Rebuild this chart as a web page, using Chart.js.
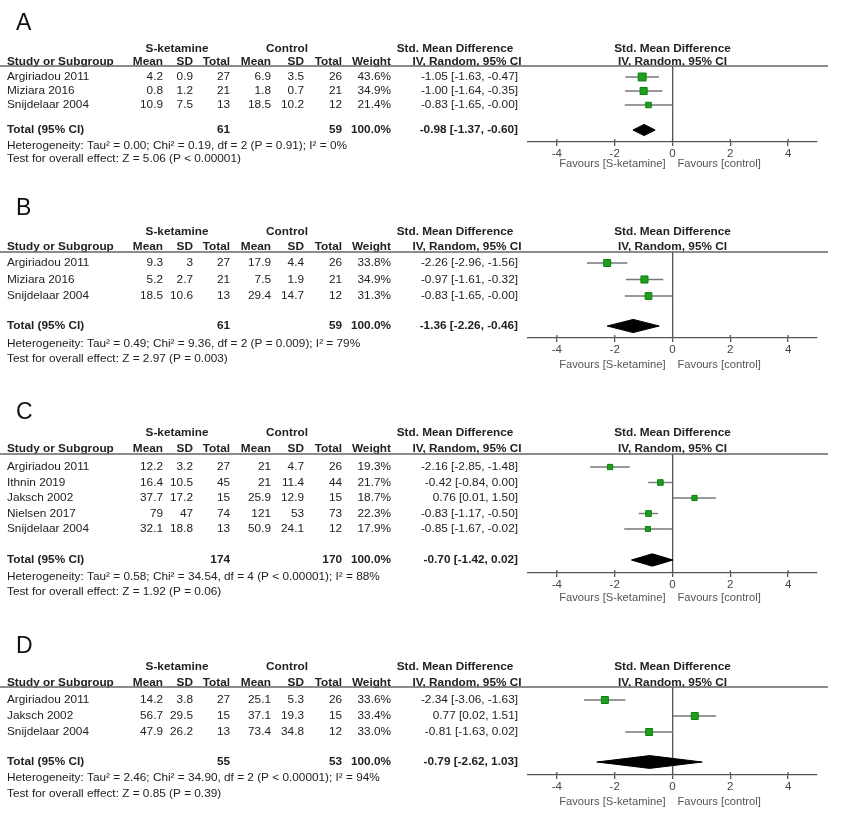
<!DOCTYPE html>
<html>
<head>
<meta charset="utf-8">
<script src="https://cdn.jsdelivr.net/npm/chart.js@4.4.1/dist/chart.umd.min.js"></script>
<style>
  html, body { margin: 0; padding: 0; background: #fff; }
  #wrap { position: relative; width: 865px; height: 816px; }
  #wrap canvas { position: absolute; left: 0; }
</style>
</head>
<body>
<div id="wrap"></div>
<script>
/* ---------- data ---------- */
const tickValues = [-4, -2, 0, 2, 4];

// A
const studiesA = ['Argiriadou 2011', 'Miziara 2016', 'Snijdelaar 2004'];
const ketMeanA = [4.2, 0.8, 10.9];
const ketSdA = [0.9, 1.2, 7.5];
const ketNA = [27, 21, 13];
const ctlMeanA = [6.9, 1.8, 18.5];
const ctlSdA = [3.5, 0.7, 10.2];
const ctlNA = [26, 21, 12];
const weightA = [43.6, 34.9, 21.4];
const smdA = [-1.05, -1.00, -0.83];
const loA = [-1.63, -1.64, -1.65];
const hiA = [-0.47, -0.35, -0.00];
const pooledA = [-0.98, -1.37, -0.60];
const totalsA = [61, 59];
const hetA = 'Heterogeneity: Tau² = 0.00; Chi² = 0.19, df = 2 (P = 0.91); I² = 0%';
const testA = 'Test for overall effect: Z = 5.06 (P < 0.00001)';

// B
const studiesB = ['Argiriadou 2011', 'Miziara 2016', 'Snijdelaar 2004'];
const ketMeanB = [9.3, 5.2, 18.5];
const ketSdB = [3, 2.7, 10.6];
const ketNB = [27, 21, 13];
const ctlMeanB = [17.9, 7.5, 29.4];
const ctlSdB = [4.4, 1.9, 14.7];
const ctlNB = [26, 21, 12];
const weightB = [33.8, 34.9, 31.3];
const smdB = [-2.26, -0.97, -0.83];
const loB = [-2.96, -1.61, -1.65];
const hiB = [-1.56, -0.32, -0.00];
const pooledB = [-1.36, -2.26, -0.46];
const totalsB = [61, 59];
const hetB = 'Heterogeneity: Tau² = 0.49; Chi² = 9.36, df = 2 (P = 0.009); I² = 79%';
const testB = 'Test for overall effect: Z = 2.97 (P = 0.003)';

// C
const studiesC = ['Argiriadou 2011', 'Ithnin 2019', 'Jaksch 2002', 'Nielsen 2017', 'Snijdelaar 2004'];
const ketMeanC = [12.2, 16.4, 37.7, 79, 32.1];
const ketSdC = [3.2, 10.5, 17.2, 47, 18.8];
const ketNC = [27, 45, 15, 74, 13];
const ctlMeanC = [21, 21, 25.9, 121, 50.9];
const ctlSdC = [4.7, 11.4, 12.9, 53, 24.1];
const ctlNC = [26, 44, 15, 73, 12];
const weightC = [19.3, 21.7, 18.7, 22.3, 17.9];
const smdC = [-2.16, -0.42, 0.76, -0.83, -0.85];
const loC = [-2.85, -0.84, 0.01, -1.17, -1.67];
const hiC = [-1.48, 0.00, 1.50, -0.50, -0.02];
const pooledC = [-0.70, -1.42, 0.02];
const totalsC = [174, 170];
const hetC = 'Heterogeneity: Tau² = 0.58; Chi² = 34.54, df = 4 (P < 0.00001); I² = 88%';
const testC = 'Test for overall effect: Z = 1.92 (P = 0.06)';

// D
const studiesD = ['Argiriadou 2011', 'Jaksch 2002', 'Snijdelaar 2004'];
const ketMeanD = [14.2, 56.7, 47.9];
const ketSdD = [3.8, 29.5, 26.2];
const ketND = [27, 15, 13];
const ctlMeanD = [25.1, 37.1, 73.4];
const ctlSdD = [5.3, 19.3, 34.8];
const ctlND = [26, 15, 12];
const weightD = [33.6, 33.4, 33.0];
const smdD = [-2.34, 0.77, -0.81];
const loD = [-3.06, 0.02, -1.63];
const hiD = [-1.63, 1.51, 0.02];
const pooledD = [-0.79, -2.62, 1.03];
const totalsD = [55, 53];
const hetD = 'Heterogeneity: Tau² = 2.46; Chi² = 34.90, df = 2 (P < 0.00001); I² = 94%';
const testD = 'Test for overall effect: Z = 0.85 (P = 0.39)';

/* ---------- panel layout (page px) ---------- */
const layoutA = { top: 0,   h: 200, label: 24,  head1: 49,  head2: 62,  line: 66,  row0: 77,  gap: 14,   total: 130, axis: 142, het: 146, test: 159, fav: 22 };
const layoutB = { top: 190, h: 190, label: 209, head1: 232, head2: 247, line: 252, row0: 263, gap: 16.5, total: 326, axis: 338, het: 344, test: 359, fav: 27 };
const layoutC = { top: 380, h: 230, label: 413, head1: 433, head2: 449, line: 454, row0: 467, gap: 15.5, total: 560, axis: 573, het: 577, test: 592, fav: 25 };
const layoutD = { top: 610, h: 206, label: 647, head1: 667, head2: 683, line: 687, row0: 700, gap: 16,   total: 762, axis: 775, het: 778, test: 794, fav: 27 };

const FONT = "'Liberation Sans', Arial, sans-serif";
const TEXT = '#222';
const GREY = '#555';
const GREEN = '#1f9f1f';
const AXIS_H = 30;

const fmt2 = v => (Object.is(v, -0) ? '-0.00' : v.toFixed(2));
const ciText = (e, l, h) => `${fmt2(e)} [${fmt2(l)}, ${fmt2(h)}]`;

// column right edges (px)
const COL = { study: 7, m1: 163, s1: 193, n1: 230, m2: 271, s2: 304, n2: 342, w: 391, ci: 518 };

function textPlugin(letter, p, d) {
  return {
    id: 'forestText' + letter,
    afterDraw(chart) {
      const ctx = chart.ctx;
      const ys = chart.scales.y;
      const xs = chart.scales.x;
      const rowOf = px => (px - p.row0) / p.gap;
      const Y = px => ys.getPixelForValue(rowOf(px));
      const put = (s, x, y, align, bold, size, color) => {
        ctx.font = `${bold ? 'bold ' : ''}${size || 11.8}px ${FONT}`;
        ctx.fillStyle = color || TEXT;
        ctx.textAlign = align;
        ctx.fillText(s, x, y);
      };
      ctx.save();
      ctx.textBaseline = 'middle';

      // panel letter
      put(letter, 16, Y(p.label), 'left', false, 23, '#111');

      // headers
      const h1 = Y(p.head1), h2 = Y(p.head2);
      const x0 = xs.getPixelForValue(0);
      put('S-ketamine', 177, h1, 'center', true);
      put('Control', 287, h1, 'center', true);
      put('Std. Mean Difference', 455, h1, 'center', true);
      put('Std. Mean Difference', x0, h1, 'center', true);
      put('Study or Subgroup', COL.study, h2, 'left', true);
      put('Mean', COL.m1, h2, 'right', true);
      put('SD', COL.s1, h2, 'right', true);
      put('Total', COL.n1, h2, 'right', true);
      put('Mean', COL.m2, h2, 'right', true);
      put('SD', COL.s2, h2, 'right', true);
      put('Total', COL.n2, h2, 'right', true);
      put('Weight', COL.w, h2, 'right', true);
      put('IV, Random, 95% CI', 467, h2, 'center', true);
      put('IV, Random, 95% CI', x0, h2, 'center', true);

      // header rule
      ctx.strokeStyle = '#666';
      ctx.lineWidth = 1.3;
      ctx.beginPath();
      const ly = ys.getPixelForValue(ys.min);
      ctx.moveTo(0, ly);
      ctx.lineTo(828, ly);
      ctx.stroke();

      // study rows
      d.studies.forEach((s, i) => {
        const y = ys.getPixelForValue(i);
        put(s, COL.study, y, 'left');
        put(String(d.ketMean[i]), COL.m1, y, 'right');
        put(String(d.ketSd[i]), COL.s1, y, 'right');
        put(String(d.ketN[i]), COL.n1, y, 'right');
        put(String(d.ctlMean[i]), COL.m2, y, 'right');
        put(String(d.ctlSd[i]), COL.s2, y, 'right');
        put(String(d.ctlN[i]), COL.n2, y, 'right');
        put(d.weight[i].toFixed(1) + '%', COL.w, y, 'right');
        put(ciText(d.smd[i], d.lo[i], d.hi[i]), COL.ci, y, 'right');
      });

      // total row
      const ty = Y(p.total);
      put('Total (95% CI)', COL.study, ty, 'left', true);
      put(String(d.totals[0]), COL.n1, ty, 'right', true);
      put(String(d.totals[1]), COL.n2, ty, 'right', true);
      put('100.0%', COL.w, ty, 'right', true);
      put(ciText(d.pooled[0], d.pooled[1], d.pooled[2]), COL.ci, ty, 'right', true);

      put(d.het, COL.study, Y(p.het), 'left');
      put(d.test, COL.study, Y(p.test), 'left');

      // tick crosses above the axis
      const ab = chart.chartArea.bottom;
      ctx.strokeStyle = GREY;
      ctx.lineWidth = 1.3;
      xs.ticks.forEach(t => {
        const x = xs.getPixelForValue(t.value);
        ctx.beginPath();
        ctx.moveTo(x, ab - 3);
        ctx.lineTo(x, ab);
        ctx.stroke();
      });

      // favours labels
      const fy = ab + p.fav;
      put('Favours [S-ketamine]', x0 - 7, fy, 'right', false, 11.2, GREY);
      put('Favours [control]', x0 + 5, fy, 'left', false, 11.2, GREY);
      ctx.restore();
    }
  };
}

function buildPanel(letter, p, d) {
  const canvas = document.createElement('canvas');
  canvas.width = 865;
  canvas.height = p.h;
  canvas.style.width = '865px';
  canvas.style.height = p.h + 'px';
  canvas.style.top = p.top + 'px';
  document.getElementById('wrap').appendChild(canvas);

  const datasets = [];
  datasets.push({
    label: 'SMD',
    data: d.smd.map((v, i) => ({ x: v, y: i })),
    showLine: false,
    pointStyle: 'rect',
    pointRadius: d.weight.map(w => (1.2 * Math.sqrt(w)) / Math.SQRT2),
    backgroundColor: GREEN,
    borderColor: '#0c7d0c',
    borderWidth: 1,
    order: 0,
  });
  d.smd.forEach((v, i) => {
    datasets.push({
      label: 'CI ' + d.studies[i],
      data: [{ x: d.lo[i], y: i }, { x: d.hi[i], y: i }],
      borderColor: '#777',
      borderWidth: 1.4,
      pointRadius: 0,
      fill: false,
      order: 1,
    });
  });
  const tr = (p.total - p.row0) / p.gap;
  const dh = 0.4;
  datasets.push({
    label: 'Pooled',
    data: [
      { x: d.pooled[1], y: tr },
      { x: d.pooled[0], y: tr - dh },
      { x: d.pooled[2], y: tr },
      { x: d.pooled[0], y: tr + dh },
      { x: d.pooled[1], y: tr },
    ],
    borderColor: '#000',
    backgroundColor: '#000',
    borderWidth: 1,
    pointRadius: 0,
    fill: 'shape',
    order: 1,
  });

  return new Chart(canvas, {
    type: 'line',
    data: { datasets },
    options: {
      responsive: false,
      animation: false,
      layout: {
        padding: {
          left: 528,
          right: 865 - 817,
          top: p.line - p.top,
          bottom: p.h - (p.axis - p.top) - AXIS_H,
        },
      },
      plugins: { legend: { display: false }, tooltip: { enabled: false } },
      scales: {
        x: {
          type: 'linear',
          min: -5,
          max: 5,
          afterBuildTicks: s => { s.ticks = tickValues.map(v => ({ value: v })); },
          afterFit: s => { s.height = AXIS_H; },
          ticks: { color: '#444', font: { family: FONT, size: 11.5 }, padding: 1 },
          grid: {
            color: c => (c.tick && c.tick.value === 0 ? GREY : 'rgba(0,0,0,0)'),
            tickColor: GREY,
            tickLength: 4,
            lineWidth: 1.3,
          },
          border: { color: GREY, width: 1.3 },
        },
        y: {
          type: 'linear',
          display: false,
          reverse: true,
          min: (p.line - p.row0) / p.gap,
          max: (p.axis - p.row0) / p.gap,
        },
      },
    },
    plugins: [textPlugin(letter, p, d)],
  });
}

buildPanel('A', layoutA, { studies: studiesA, ketMean: ketMeanA, ketSd: ketSdA, ketN: ketNA, ctlMean: ctlMeanA, ctlSd: ctlSdA, ctlN: ctlNA, weight: weightA, smd: smdA, lo: loA, hi: hiA, pooled: pooledA, totals: totalsA, het: hetA, test: testA });
buildPanel('B', layoutB, { studies: studiesB, ketMean: ketMeanB, ketSd: ketSdB, ketN: ketNB, ctlMean: ctlMeanB, ctlSd: ctlSdB, ctlN: ctlNB, weight: weightB, smd: smdB, lo: loB, hi: hiB, pooled: pooledB, totals: totalsB, het: hetB, test: testB });
buildPanel('C', layoutC, { studies: studiesC, ketMean: ketMeanC, ketSd: ketSdC, ketN: ketNC, ctlMean: ctlMeanC, ctlSd: ctlSdC, ctlN: ctlNC, weight: weightC, smd: smdC, lo: loC, hi: hiC, pooled: pooledC, totals: totalsC, het: hetC, test: testC });
buildPanel('D', layoutD, { studies: studiesD, ketMean: ketMeanD, ketSd: ketSdD, ketN: ketND, ctlMean: ctlMeanD, ctlSd: ctlSdD, ctlN: ctlND, weight: weightD, smd: smdD, lo: loD, hi: hiD, pooled: pooledD, totals: totalsD, het: hetD, test: testD });
</script>
</body>
</html>
